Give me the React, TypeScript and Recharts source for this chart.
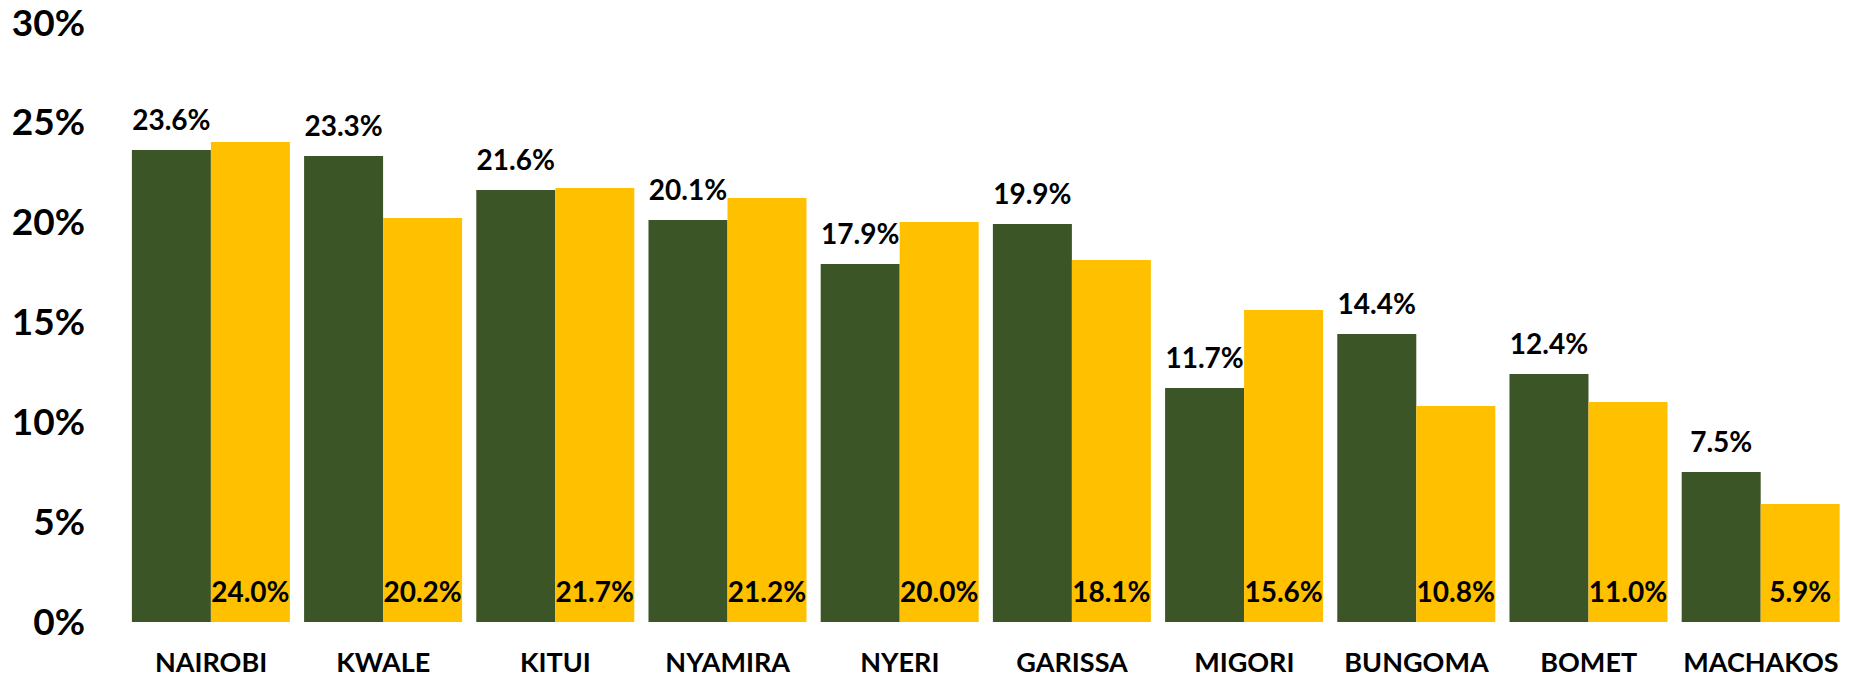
import React from "react";
import { BarChart, Bar, XAxis, YAxis, LabelList } from "recharts";

const categories = ["NAIROBI", "KWALE", "KITUI", "NYAMIRA", "NYERI", "GARISSA", "MIGORI", "BUNGOMA", "BOMET", "MACHAKOS"];
const seriesA = [23.6, 23.3, 21.6, 20.1, 17.9, 19.9, 11.7, 14.4, 12.4, 7.5];
const seriesB = [24.0, 20.2, 21.7, 21.2, 20.0, 18.1, 15.6, 10.8, 11.0, 5.9];
const yTicks = [0, 5, 10, 15, 20, 25, 30];

const data = categories.map((c, i) => ({ name: c, a: seriesA[i], b: seriesB[i] }));

const FONT = "Lato, 'Open Sans', sans-serif";
const fmt = (v: number) => `${v.toFixed(1)}%`;

export default function App() {
  return (
    <div style={{ position: "absolute", left: 0, top: 0, width: 1851, height: 677, background: "#fff" }}>
      <BarChart
        width={1851}
        height={677}
        data={data}
        margin={{ top: 22, right: 4, bottom: 0, left: 0 }}
        barCategoryGap="4%"
        barGap={0}
      >
        <XAxis
          dataKey="name"
          height={55}
          axisLine={false}
          tickLine={false}
          tickSize={0}
          tickMargin={31}
          interval={0}
          tick={{ fill: "#000", fontSize: 27, fontWeight: 700, fontFamily: FONT }}
        />
        <YAxis
          width={125}
          domain={[0, 30]}
          ticks={yTicks}
          axisLine={false}
          tickLine={false}
          tickSize={0}
          tickMargin={40}
          tickFormatter={(v: number) => `${v}%`}
          tick={{ fill: "#000", fontSize: 37, fontWeight: 700, fontFamily: FONT }}
        />
        <Bar dataKey="a" fill="#3B5526" isAnimationActive={false}>
          <LabelList
            dataKey="a"
            position="top"
            offset={20}
            formatter={fmt}
            style={{ fill: "#000", fontSize: 28, fontWeight: 700, fontFamily: FONT }}
          />
        </Bar>
        <Bar dataKey="b" fill="#FFC000" isAnimationActive={false}>
          <LabelList
            dataKey="b"
            position="insideBottom"
            offset={20}
            formatter={fmt}
            style={{ fill: "#000", fontSize: 28, fontWeight: 700, fontFamily: FONT }}
          />
        </Bar>
      </BarChart>
    </div>
  );
}
